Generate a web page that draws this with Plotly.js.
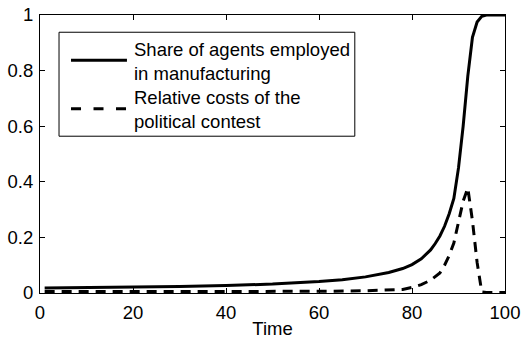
<!DOCTYPE html>
<html>
<head>
<meta charset="utf-8">
<script src="https://cdn.plot.ly/plotly-3.0.1.min.js"></script>
<style>html,body{margin:0;padding:0;background:#fff;}#chart{width:523px;height:339px;}</style>
</head>
<body>
<div id="chart"></div>
<script>
// Share of agents employed in manufacturing
var timeShare = [1, 10, 20, 30, 40, 50, 60, 65, 70, 75, 78, 80, 82, 84, 85, 86, 87, 88, 89, 90, 91, 92, 93, 94, 95, 96, 98, 100];
var shareValues = [0.018, 0.019, 0.021, 0.023, 0.027, 0.032, 0.041, 0.048, 0.058, 0.074, 0.088, 0.102, 0.123, 0.155, 0.178, 0.205, 0.24, 0.285, 0.34, 0.45, 0.6, 0.78, 0.92, 0.975, 0.995, 1.0, 1.0, 1.0];
// Relative costs of the political contest
var timeCost = [1, 10, 20, 30, 40, 50, 60, 70, 75, 78, 80, 82, 84, 85, 86, 87, 88, 89, 90, 91, 92, 93, 94, 95, 96, 98, 100];
var costValues = [0.005, 0.005, 0.005, 0.005, 0.005, 0.005, 0.006, 0.008, 0.01, 0.013, 0.02, 0.03, 0.046, 0.058, 0.072, 0.1, 0.135, 0.18, 0.26, 0.33, 0.378, 0.26, 0.11, 0.004, 0.002, 0.002, 0.002];
var xTicks = [0, 20, 40, 60, 80, 100];
var xTickText = ["0", "20", "40", "60", "80", "100"];
var yTicks = [0, 0.2, 0.4, 0.6, 0.8, 1];
var yTickText = ["0", "0.2", "0.4", "0.6", "0.8", "1"];
var legendLabels = ["Share of agents employed<br>in manufacturing", "Relative costs of the<br>political contest"];

var fontFam = '"Liberation Sans", Arial, Helvetica, sans-serif';
var fs = 18.5;
var traces = [
  {x: timeShare, y: shareValues, mode: 'lines', line: {color: '#000', width: 3}, showlegend: false, hoverinfo: 'skip'},
  {x: timeCost, y: costValues, mode: 'lines', line: {color: '#000', width: 3, dash: '10px,7px'}, showlegend: false, hoverinfo: 'skip'}
];
var axisCommon = {
  showgrid: false, zeroline: false, showline: true, linecolor: '#000', linewidth: 1,
  mirror: 'ticks', ticks: 'inside', ticklen: 5, tickcolor: '#000', tickwidth: 1,
  tickfont: {family: fontFam, size: fs, color: '#000'}, tickmode: 'array'
};
var layout = {
  width: 523, height: 339,
  margin: {l: 40, r: 18, t: 15, b: 46},
  paper_bgcolor: '#fff', plot_bgcolor: '#fff',
  font: {family: fontFam, size: fs, color: '#000'},
  xaxis: Object.assign({}, axisCommon, {range: [0, 100], tickvals: xTicks, ticktext: xTickText, ticklabelstandoff: 3,
    title: {text: 'Time', font: {family: fontFam, size: fs, color: '#000'}, standoff: 3}}),
  yaxis: Object.assign({}, axisCommon, {range: [0, 1], tickvals: yTicks, ticktext: yTickText, ticklabelstandoff: 2}),
  shapes: [
    {type: 'rect', xref: 'paper', yref: 'paper', x0: 0.0409, x1: 0.677, y0: 0.564, y1: 0.938,
      line: {color: '#000', width: 1}, fillcolor: '#fff', layer: 'above'},
    {type: 'line', xref: 'paper', yref: 'paper', x0: 0.0667, x1: 0.187, y0: 0.837, y1: 0.837,
      line: {color: '#000', width: 3}, layer: 'above'},
    {type: 'line', xref: 'paper', yref: 'paper', x0: 0.0667, x1: 0.187, y0: 0.663, y1: 0.663,
      line: {color: '#000', width: 3, dash: '10px,12.5px'}, layer: 'above'}
  ],
  annotations: [
    {xref: 'paper', yref: 'paper', x: 0.197, y: 0.832, xanchor: 'left', yanchor: 'middle', align: 'left',
      text: legendLabels[0], showarrow: false, font: {family: fontFam, size: fs, color: '#000'}},
    {xref: 'paper', yref: 'paper', x: 0.197, y: 0.66, xanchor: 'left', yanchor: 'middle', align: 'left',
      text: legendLabels[1], showarrow: false, font: {family: fontFam, size: fs, color: '#000'}}
  ]
};
Plotly.newPlot('chart', traces, layout, {staticPlot: true, displayModeBar: false});
</script>
</body>
</html>
